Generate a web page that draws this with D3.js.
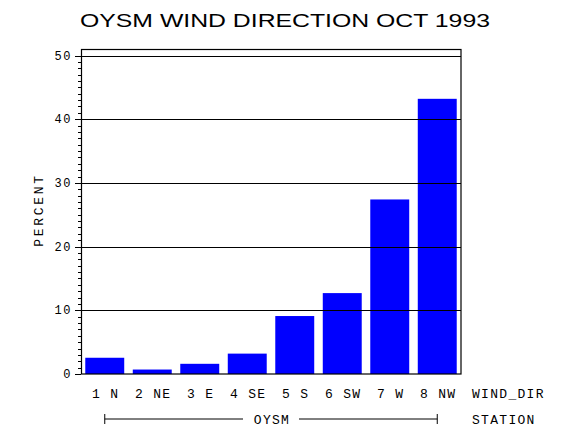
<!DOCTYPE html>
<html>
<head>
<meta charset="utf-8">
<script src="https://cdn.jsdelivr.net/npm/d3@7"></script>
<style>
  body { margin: 0; background: #fff; }
  text { font-family: "Liberation Mono", "DejaVu Sans Mono", monospace; fill: #000; }
</style>
</head>
<body>
<div id="chart-area"></div>
<script>
const directions = ['1 N', '2 NE', '3 E', '4 SE', '5 S', '6 SW', '7 W', '8 NW']
const percents = [2.55, 0.7, 1.6, 3.2, 9.1, 12.7, 27.4, 43.2]
const yTicks = [0, 10, 20, 30, 40, 50]
const station = 'OYSM'

const W = 570, H = 430
const MARGIN = { LEFT: 81, RIGHT: 109, TOP: 49, BOTTOM: 56 }
const WIDTH = W - MARGIN.LEFT - MARGIN.RIGHT
const HEIGHT = H - MARGIN.TOP - MARGIN.BOTTOM

const svg = d3.select('#chart-area').append('svg')
	.attr('width', W)
	.attr('height', H)

// title
svg.append('text')
	.attr('x', 80)
	.attr('y', 27)
	.attr('font-size', '19px')
	.attr('textLength', 410)
	.attr('lengthAdjust', 'spacingAndGlyphs')
	.style('font-family', '"Liberation Sans", Arial, sans-serif')
	.text('OYSM WIND DIRECTION OCT 1993')

const g = svg.append('g')
	.attr('transform', `translate(${MARGIN.LEFT}, ${MARGIN.TOP})`)

const x = d3.scaleBand()
	.domain(directions)
	.range([0, WIDTH])
	.paddingInner(0.18)
	.paddingOuter(0.09)

// y: 0 at bottom (374), 50 at 55.5
const y = d3.scaleLinear()
	.domain([0, 50])
	.range([HEIGHT, 55.5 - MARGIN.TOP])

// bars
g.selectAll('rect.bar')
	.data(percents)
	.enter().append('rect')
	.attr('class', 'bar')
	.attr('x', (d, i) => x(directions[i]))
	.attr('width', x.bandwidth())
	.attr('y', d => y(d))
	.attr('height', d => HEIGHT - y(d))
	.attr('fill', '#0000ff')

// grid lines on top of bars
g.selectAll('line.grid')
	.data(yTicks.slice(1))
	.enter().append('line')
	.attr('class', 'grid')
	.attr('x1', 0)
	.attr('x2', WIDTH)
	.attr('y1', d => Math.round(y(d)) + 0.5)
	.attr('y2', d => Math.round(y(d)) + 0.5)
	.attr('stroke', '#000')
	.attr('stroke-width', 1.2)

// frame
g.append('rect')
	.attr('x', 0.5)
	.attr('y', 0.5)
	.attr('width', WIDTH - 0.5)
	.attr('height', HEIGHT - 0.5)
	.attr('fill', 'none')
	.attr('stroke', '#000')
	.attr('stroke-width', 1.2)

// y axis with minor ticks
const minor = d3.range(0, 51)
g.selectAll('line.minor')
	.data(minor)
	.enter().append('line')
	.attr('class', 'minor')
	.attr('x1', d => d % 10 === 0 ? -6 : -3)
	.attr('x2', 0)
	.attr('y1', d => Math.round(y(d)) + 0.5)
	.attr('y2', d => Math.round(y(d)) + 0.5)
	.attr('stroke', '#000')
	.attr('stroke-width', 1)

g.selectAll('text.ytick')
	.data(yTicks)
	.enter().append('text')
	.attr('class', 'ytick')
	.attr('x', -9)
	.attr('y', d => y(d) + 4)
	.attr('text-anchor', 'end')
	.attr('font-size', '12px')
	.attr('letter-spacing', '1.5px')
	.text(d => d)

// y label
g.append('text')
	.attr('transform', `translate(${43 - MARGIN.LEFT}, ${210 - MARGIN.TOP}) rotate(-90)`)
	.attr('text-anchor', 'middle')
	.attr('font-size', '13px')
	.attr('letter-spacing', '2.7px')
	.text('PERCENT')

// x labels
g.selectAll('text.xtick')
	.data(directions)
	.enter().append('text')
	.attr('class', 'xtick')
	.attr('x', d => x(d) + x.bandwidth() / 2 + 1)
	.attr('y', HEIGHT + 24)
	.attr('text-anchor', 'middle')
	.attr('font-size', '13px')
	.attr('letter-spacing', '1.3px')
	.text(d => d)

g.append('text')
	.attr('x', 472 - MARGIN.LEFT)
	.attr('y', HEIGHT + 24)
	.attr('font-size', '13px')
	.attr('letter-spacing', '1.3px')
	.text('WIND_DIR')

// station bracket
const bx1 = x(directions[0]) + x.bandwidth() / 2
const bx2 = x(directions[directions.length - 1]) + x.bandwidth() / 2
const by = 419 - MARGIN.TOP
const mid = (bx1 + bx2) / 2
g.append('path')
	.attr('d', `M${bx1},${by - 5}V${by + 5}M${bx1},${by}H${mid - 28}M${mid + 28},${by}H${bx2}M${bx2},${by - 5}V${by + 5}`)
	.attr('stroke', '#000')
	.attr('fill', 'none')

g.append('text')
	.attr('x', mid + 1)
	.attr('y', by + 5)
	.attr('text-anchor', 'middle')
	.attr('font-size', '13px')
	.attr('letter-spacing', '1.3px')
	.text(station)

g.append('text')
	.attr('x', 472 - MARGIN.LEFT)
	.attr('y', by + 5)
	.attr('font-size', '13px')
	.attr('letter-spacing', '1.3px')
	.text('STATION')
</script>
</body>
</html>
